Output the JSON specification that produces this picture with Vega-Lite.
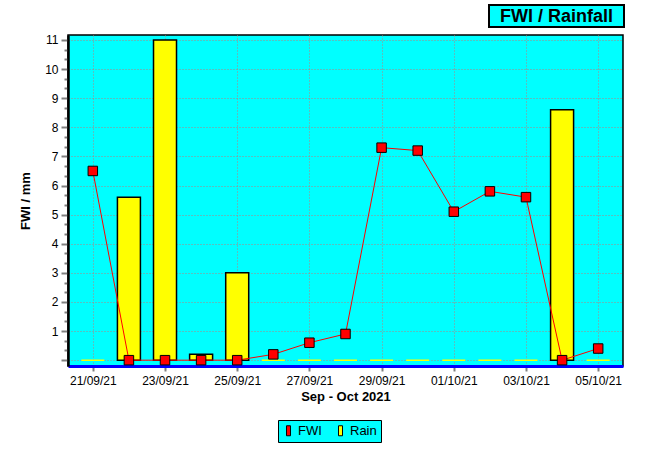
{
  "$schema": "https://vega.github.io/schema/vega-lite/v6.json",
  "background": "white",
  "padding": {"left": 18, "top": 4, "right": 0, "bottom": 0},
  "spacing": 5,
  "config": {
    "font": "Liberation Sans",
    "view": {"stroke": null},
    "concat": {"spacing": 8}
  },
  "datasets": {
    "daily": [
      {"date": "2021-09-21", "FWI": 6.5, "Rain": 0},
      {"date": "2021-09-22", "FWI": 0, "Rain": 5.6},
      {"date": "2021-09-23", "FWI": 0, "Rain": 11},
      {"date": "2021-09-24", "FWI": 0, "Rain": 0.2},
      {"date": "2021-09-25", "FWI": 0, "Rain": 3.0},
      {"date": "2021-09-26", "FWI": 0.2, "Rain": 0},
      {"date": "2021-09-27", "FWI": 0.6, "Rain": 0},
      {"date": "2021-09-28", "FWI": 0.9, "Rain": 0},
      {"date": "2021-09-29", "FWI": 7.3, "Rain": 0},
      {"date": "2021-09-30", "FWI": 7.2, "Rain": 0},
      {"date": "2021-10-01", "FWI": 5.1, "Rain": 0},
      {"date": "2021-10-02", "FWI": 5.8, "Rain": 0},
      {"date": "2021-10-03", "FWI": 5.6, "Rain": 0},
      {"date": "2021-10-04", "FWI": 0, "Rain": 8.6},
      {"date": "2021-10-05", "FWI": 0.4, "Rain": 0}
    ],
    "titles": [{"text": "FWI / Rainfall"}],
    "blank": [{"text": ""}]
  },
  "vconcat": [
    {
      "hconcat": [
        {
          "width": 412,
          "height": 22,
          "data": {"name": "blank"},
          "mark": {"type": "text"},
          "encoding": {"text": {"field": "text"}},
          "view": {"stroke": null}
        },
        {
          "width": 135,
          "height": 22,
          "data": {"name": "titles"},
          "view": {"fill": "#00ffff", "stroke": "black", "strokeWidth": 2},
          "mark": {"type": "text", "font": "Liberation Sans", "fontSize": 18, "fontWeight": "bold", "color": "black", "align": "center", "baseline": "middle", "dy": 1},
          "encoding": {"text": {"field": "text"}}
        }
      ]
    },
    {
      "width": 555,
      "height": 331,
      "data": {"name": "daily"},
      "view": {"fill": "#00ffff", "stroke": "black", "strokeWidth": 1.5},
      "encoding": {
        "x": {
          "field": "date",
          "type": "temporal",
          "scale": {
            "type": "utc",
            "nice": false,
            "padding": 0,
            "domain": [
              {"year": 2021, "month": 9, "date": 20, "hours": 7, "minutes": 30, "utc": true},
              {"year": 2021, "month": 10, "date": 5, "hours": 16, "minutes": 30, "utc": true}
            ]
          },
          "axis": {
            "title": "Sep - Oct 2021",
            "titleFont": "Liberation Sans",
            "titleFontSize": 13,
            "titleFontWeight": "bold",
            "titleColor": "black",
            "titlePadding": 4,
            "labelExpr": "utcFormat(datum.value, '%d/%m/%y')",
            "tickCount": 40,
            "values": [
              {"year": 2021, "month": 9, "date": 21, "utc": true},
              {"year": 2021, "month": 9, "date": 23, "utc": true},
              {"year": 2021, "month": 9, "date": 25, "utc": true},
              {"year": 2021, "month": 9, "date": 27, "utc": true},
              {"year": 2021, "month": 9, "date": 29, "utc": true},
              {"year": 2021, "month": 10, "date": 1, "utc": true},
              {"year": 2021, "month": 10, "date": 3, "utc": true},
              {"year": 2021, "month": 10, "date": 5, "utc": true}
            ],
            "labelFont": "Liberation Sans",
            "labelFontSize": 12,
            "labelColor": "black",
            "labelPadding": 4,
            "labelFlush": false,
            "labelOverlap": false,
            "tickSize": 5,
            "tickWidth": 2,
            "tickColor": "#808080",
            "domainColor": "#0000ff",
            "domainWidth": 3,
            "grid": true,
            "gridColor": "#b08080",
            "gridDash": [1, 2],
            "gridWidth": 1
          }
        }
      },
      "layer": [
        {
          "mark": {"type": "bar", "size": 23, "strokeWidth": 1.5},
          "encoding": {
            "y": {
              "field": "Rain",
              "type": "quantitative",
              "stack": null,
              "scale": {"domain": [-0.2, 11.17], "nice": false, "zero": false},
              "axis": {
                "title": "FWI / mm",
                "titleFont": "Liberation Sans",
                "titleFontSize": 13,
                "titleFontWeight": "bold",
                "titleColor": "black",
                "titlePadding": 12,
                "tickCount": 100,
                "values": [0, 0.3333, 0.6667, 1, 1.3333, 1.6667, 2, 2.3333, 2.6667, 3, 3.3333, 3.6667, 4, 4.3333, 4.6667, 5, 5.3333, 5.6667, 6, 6.3333, 6.6667, 7, 7.3333, 7.6667, 8, 8.3333, 8.6667, 9, 9.3333, 9.6667, 10, 10.3333, 10.6667, 11],
                "labelExpr": "datum.value >= 1 && datum.value % 1 == 0 ? format(datum.value, 'd') : ''",
                "labelFont": "Liberation Sans",
                "labelFontSize": 12,
                "labelColor": "black",
                "labelPadding": 3,
                "labelFlush": false,
                "labelOverlap": false,
                "tickSize": {"condition": {"test": "datum.value % 1 == 0", "value": 7}, "value": 4},
                "tickWidth": 2,
                "tickColor": "#808080",
                "domainColor": "black",
                "domainWidth": 2.5,
                "grid": true,
                "gridOpacity": {"condition": {"test": "datum.value % 1 == 0", "value": 1}, "value": 0},
                "gridColor": "#b08080",
                "gridDash": [1, 2],
                "gridWidth": 1
              }
            },
            "y2": {"datum": 0},
            "color": {
              "datum": "Rain",
              "type": "nominal",
              "scale": {"domain": ["FWI", "Rain"], "range": ["#ff0000", "#ffff00"]},
              "legend": {
                "title": null,
                "orient": "none",
                "direction": "horizontal",
                "legendX": 210,
                "legendY": 415,
                "fillColor": "#00ffff",
                "strokeColor": "black",
                "padding": 4,
                "symbolType": "M-0.4,-1H0.4V1H-0.4Z",
                "symbolSize": 100,
                "symbolStrokeColor": "black",
                "symbolStrokeWidth": 1,
                "symbolOpacity": 1,
                "labelFont": "Liberation Sans",
                "labelFontSize": 13,
                "labelColor": "black",
                "labelOffset": 3,
                "columnPadding": 12
              }
            },
            "stroke": {"condition": {"test": "datum.Rain == 0", "value": "#ffff00"}, "value": "black"}
          }
        },
        {
          "mark": {"type": "line", "color": "#ff0000", "strokeWidth": 1},
          "encoding": {
            "y": {"field": "FWI", "type": "quantitative"}
          }
        },
        {
          "mark": {"type": "point", "shape": "square", "filled": true, "size": 90, "stroke": "black", "strokeWidth": 1, "opacity": 1},
          "encoding": {
            "y": {"field": "FWI", "type": "quantitative"},
            "color": {"datum": "FWI", "type": "nominal"}
          }
        }
      ]
    }
  ]
}
